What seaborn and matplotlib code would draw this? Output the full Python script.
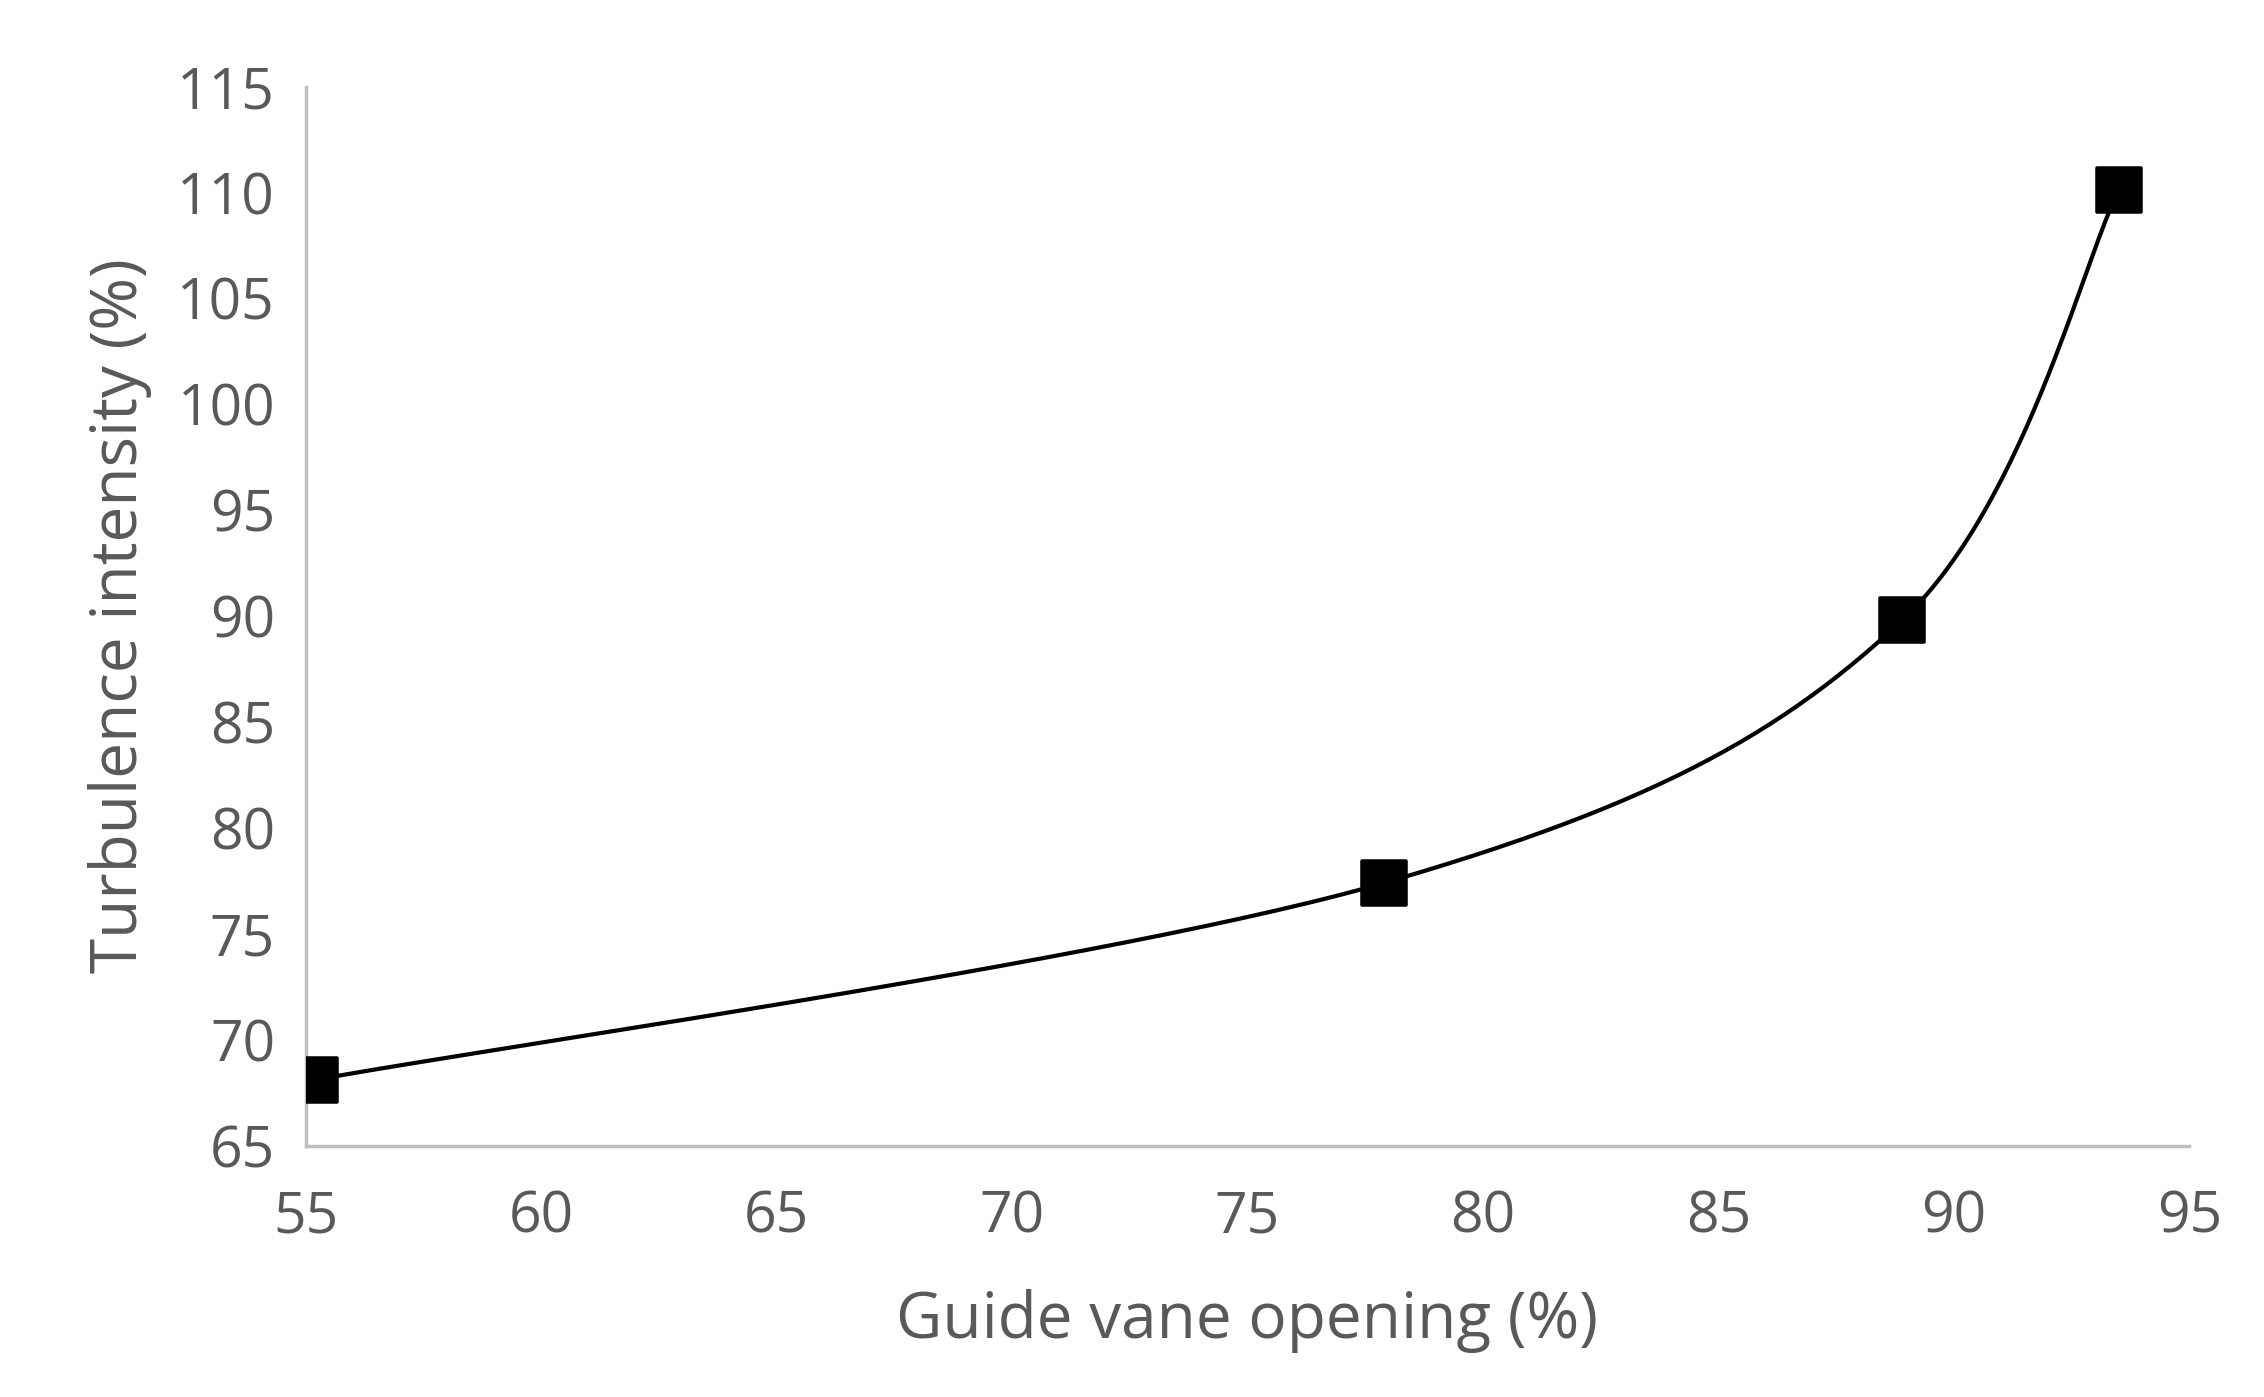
import numpy as np
import matplotlib
matplotlib.use("Agg")
import matplotlib.pyplot as plt
import seaborn as sns

opening = [55.2, 77.9, 88.9, 93.5]
turbulence = [68.1, 77.4, 89.8, 110.1]
xticks = [55, 60, 65, 70, 75, 80, 85, 90, 95]
yticks = [65, 70, 75, 80, 85, 90, 95, 100, 105, 110, 115]

sns.set_style("white")
plt.rcParams['font.family'] = ['Open Sans', 'DejaVu Sans']
grey = '#595959'
axis_grey = '#bfbfbf'


def smooth(xs, ys, n=60):
    # Excel-like smoothed line: cubic Bezier with Catmull-Rom control points
    pts = np.column_stack([xs, ys]).astype(float)
    p = np.vstack([pts[0], pts, pts[-1]])
    out = []
    t = np.linspace(0, 1, n)[:, None]
    for i in range(1, len(p) - 2):
        p0, p1, p2, p3 = p[i - 1], p[i], p[i + 1], p[i + 2]
        c1 = p1 + (p2 - p0) / 6
        c2 = p2 - (p3 - p1) / 6
        seg = ((1 - t) ** 3) * p1 + 3 * ((1 - t) ** 2) * t * c1 + 3 * (1 - t) * t ** 2 * c2 + t ** 3 * p2
        out.append(seg)
    out = np.vstack(out)
    return out[:, 0], out[:, 1]


fig = plt.figure(figsize=(22.64, 13.97), dpi=100)
ax = fig.add_axes([0.135, 0.18, 0.832, 0.758])

sx, sy = smooth(opening, turbulence)
sns.lineplot(x=sx, y=sy, ax=ax, color='black', lw=3, sort=False, estimator=None)
sns.scatterplot(x=opening, y=turbulence, ax=ax, marker='s', s=1000, color='black',
                edgecolor='black', zorder=5)

ax.set_xlim(55, 95)
ax.set_ylim(65, 115)
ax.set_xticks(xticks)
ax.set_yticks(yticks)
for s in ['top', 'right']:
    ax.spines[s].set_visible(False)
for s in ['left', 'bottom']:
    ax.spines[s].set_color(axis_grey)
    ax.spines[s].set_linewidth(2.5)
ax.tick_params(axis='both', direction='out', length=14, width=2.5, color=axis_grey,
               labelsize=41, labelcolor=grey, pad=18)
ax.tick_params(axis='y', length=0, pad=22)
ax.set_xlabel('Guide vane opening (%)', fontsize=46, color=grey, labelpad=30)
ax.set_ylabel('Turbulence intensity (%)', fontsize=46, color=grey, labelpad=18)

fig.savefig('out.png', dpi=100)
